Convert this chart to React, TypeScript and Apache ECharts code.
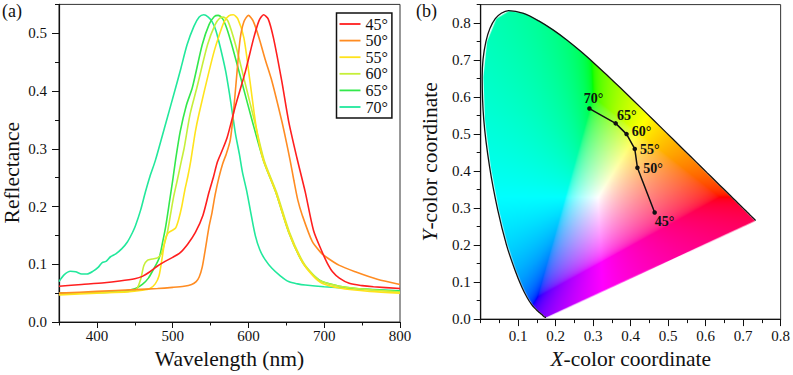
import { useEffect, useRef } from 'react';
import * as echarts from 'echarts';

const FONT = 'Liberation Serif';

// ---------- Panel (a): reflectance spectra ----------
const angleLabels = ['45°', '50°', '55°', '60°', '65°', '70°'];
const lineColors = ['#ff1f1f', '#ff8c22', '#ffe31c', '#c6ef3a', '#33e84c', '#22e89c'];

const spec45 = [
  [350, 0.062], [380, 0.065], [410, 0.068], [430, 0.071], [450, 0.075], [460, 0.079], [470, 0.087],
  [480, 0.097], [490, 0.105], [500, 0.112], [510, 0.12], [520, 0.135], [530, 0.155], [540, 0.185],
  [548, 0.225], [554, 0.252], [559, 0.277], [565, 0.296], [572, 0.32], [583, 0.375], [596, 0.434],
  [607, 0.492], [614, 0.522], [620, 0.532], [626, 0.525], [633, 0.492], [644, 0.417], [653, 0.348],
  [664, 0.284], [675, 0.225], [686, 0.158], [697, 0.122], [704, 0.102], [711, 0.087], [720, 0.076],
  [733, 0.067], [750, 0.063], [765, 0.061], [800, 0.058],
];
const spec50 = [
  [350, 0.05], [400, 0.053], [450, 0.056], [480, 0.058], [500, 0.06], [515, 0.062], [525, 0.065],
  [531, 0.07], [535, 0.078], [539, 0.095], [543, 0.125], [548, 0.165], [552, 0.19], [556, 0.22],
  [561, 0.25], [566, 0.274], [571, 0.292], [576, 0.315], [580, 0.36], [585, 0.434], [589, 0.49],
  [594, 0.52], [600, 0.531], [606, 0.522], [614, 0.492], [622, 0.455], [631, 0.417], [644, 0.348],
  [650, 0.312], [655, 0.28], [660, 0.245], [665, 0.212], [671, 0.185], [684, 0.14], [695, 0.121],
  [702, 0.113], [720, 0.098], [741, 0.087], [770, 0.074], [800, 0.065],
];
const spec55 = [
  [350, 0.047], [400, 0.05], [440, 0.052], [460, 0.055], [470, 0.058], [477, 0.066], [482, 0.08],
  [486, 0.11], [490, 0.142], [494, 0.154], [500, 0.159], [504, 0.163], [508, 0.178], [512, 0.2],
  [516, 0.228], [520, 0.252], [524, 0.28], [530, 0.33], [535, 0.362], [548, 0.434], [555, 0.47],
  [561, 0.495], [568, 0.52], [574, 0.53], [580, 0.532], [586, 0.525], [594, 0.492], [602, 0.417],
  [609, 0.348], [614, 0.31], [620, 0.279], [636, 0.225], [653, 0.156], [671, 0.104], [685, 0.08],
  [697, 0.067], [720, 0.059], [760, 0.053], [800, 0.05],
];
const spec60 = [
  [350, 0.049], [400, 0.051], [440, 0.053], [452, 0.056], [458, 0.075], [462, 0.098], [467, 0.107],
  [473, 0.109], [480, 0.111], [485, 0.118], [489, 0.135], [493, 0.155], [497, 0.185], [501, 0.215],
  [506, 0.245], [512, 0.282], [515, 0.3], [523, 0.36], [532, 0.406], [546, 0.48], [556, 0.515],
  [562, 0.526], [567, 0.528], [573, 0.521], [583, 0.48], [595, 0.417], [608, 0.348], [621, 0.279],
  [637, 0.225], [654, 0.156], [672, 0.104], [686, 0.081], [697, 0.07], [720, 0.062], [760, 0.056],
  [800, 0.052],
];
const spec65 = [
  [350, 0.05], [400, 0.051], [430, 0.053], [445, 0.056], [451, 0.058], [460, 0.065], [468, 0.076],
  [475, 0.092], [482, 0.11], [487, 0.14], [491, 0.167], [496, 0.21], [500, 0.245], [504, 0.282],
  [510, 0.33], [518, 0.375], [526, 0.406], [539, 0.48], [548, 0.515], [555, 0.529], [560, 0.531],
  [566, 0.525], [571, 0.51], [578, 0.48], [591, 0.417], [605, 0.348], [620, 0.279], [636, 0.225],
  [653, 0.156], [671, 0.104], [685, 0.082], [697, 0.07], [720, 0.062], [741, 0.058], [800, 0.053],
];
const spec70 = [
  [350, 0.07], [357, 0.082], [365, 0.088], [372, 0.087], [380, 0.083], [387, 0.083], [395, 0.088],
  [402, 0.095], [407, 0.103], [412, 0.105], [418, 0.113], [425, 0.118], [433, 0.127], [440, 0.138],
  [447, 0.155], [451, 0.167], [458, 0.195], [464, 0.225], [470, 0.252], [477, 0.279], [490, 0.34],
  [504, 0.406], [511, 0.44], [519, 0.48], [528, 0.512], [535, 0.528], [541, 0.532], [547, 0.528],
  [552, 0.52], [557, 0.505], [563, 0.475], [570, 0.434], [575, 0.395], [579, 0.36], [583, 0.325],
  [588, 0.291], [592, 0.26], [598, 0.225], [603, 0.19], [609, 0.15], [615, 0.125], [622, 0.108],
  [631, 0.093], [642, 0.08], [653, 0.07], [665, 0.066], [675, 0.064], [700, 0.061], [750, 0.057],
  [800, 0.054],
];
const spectra = [spec45, spec50, spec55, spec60, spec65, spec70];

const waveMin = 350;
const waveMax = 800;
const waveLabelTicks = [400, 500, 600, 700, 800];
const reflMax = 0.55;
const reflLabelTicks = [0, 0.1, 0.2, 0.3, 0.4, 0.5];

// ---------- Panel (b): CIE 1931 chromaticity ----------
const locusX = [
  0.1741, 0.174, 0.1738, 0.1736, 0.1733, 0.173, 0.1726, 0.1721, 0.1714, 0.1703, 0.1689, 0.1669,
  0.1644, 0.1611, 0.1566, 0.151, 0.144, 0.1355, 0.1241, 0.1096, 0.0913, 0.0687, 0.0454, 0.0235,
  0.0082, 0.0039, 0.0139, 0.0389, 0.0743, 0.1142, 0.1547, 0.1929, 0.2296, 0.2658, 0.3016, 0.3373,
  0.3731, 0.4087, 0.4441, 0.4788, 0.5125, 0.5448, 0.5752, 0.6029, 0.627, 0.6482, 0.6658, 0.6801,
  0.6915, 0.7006, 0.7079, 0.714, 0.719, 0.723, 0.726, 0.7283, 0.73, 0.7311, 0.732, 0.7334, 0.7344,
  0.7347,
];
const locusY = [
  0.005, 0.005, 0.0049, 0.0049, 0.0048, 0.0048, 0.0048, 0.0048, 0.0051, 0.0058, 0.0069, 0.0086,
  0.0109, 0.0138, 0.0177, 0.0227, 0.0297, 0.0399, 0.0578, 0.0868, 0.1327, 0.2007, 0.295, 0.4127,
  0.5384, 0.6548, 0.7502, 0.812, 0.8338, 0.8262, 0.8059, 0.7816, 0.7543, 0.7243, 0.6923, 0.6589,
  0.6245, 0.5896, 0.5547, 0.5202, 0.4866, 0.4544, 0.4242, 0.3965, 0.3725, 0.3514, 0.334, 0.3197,
  0.3083, 0.2993, 0.292, 0.2859, 0.2809, 0.277, 0.274, 0.2717, 0.27, 0.2689, 0.268, 0.2666, 0.2656,
  0.2653,
];
const pointX = [0.464, 0.418, 0.411, 0.389, 0.36, 0.29];
const pointY = [0.288, 0.409, 0.46, 0.5, 0.529, 0.569];

const cieXMax = 0.8;
const cieYMax = 0.85;
const cieXLabelTicks = [0.1, 0.2, 0.3, 0.4, 0.5, 0.6, 0.7, 0.8];
const cieYLabelTicks = [0, 0.1, 0.2, 0.3, 0.4, 0.5, 0.6, 0.7, 0.8];

function gammaSRGB(v: number) {
  return v <= 0.0031308 ? 12.92 * v : 1.055 * Math.pow(v, 1 / 2.4) - 0.055;
}

function buildGamutImage(W: number, H: number): string {
  const base = document.createElement('canvas');
  base.width = W;
  base.height = H;
  const bctx = base.getContext('2d')!;
  const img = bctx.createImageData(W, H);
  const d = img.data;
  for (let j = 0; j < H; j++) {
    const y = Math.max(cieYMax * (1 - (j + 0.5) / H), 0.002);
    for (let i = 0; i < W; i++) {
      const x = (cieXMax * (i + 0.5)) / W;
      const X = x / y;
      const Y = 1;
      const Z = (1 - x - y) / y;
      let r = 3.2406 * X - 1.5372 * Y - 0.4986 * Z;
      let g = -0.9689 * X + 1.8758 * Y + 0.0415 * Z;
      let b = 0.0557 * X - 0.204 * Y + 1.057 * Z;
      const m = Math.min(r, g, b);
      if (m < 0) {
        r -= m;
        g -= m;
        b -= m;
      }
      const M = Math.max(r, g, b) || 1;
      const k = (j * W + i) * 4;
      d[k] = Math.round(gammaSRGB(r / M) * 255);
      d[k + 1] = Math.round(gammaSRGB(g / M) * 255);
      d[k + 2] = Math.round(gammaSRGB(b / M) * 255);
      d[k + 3] = 255;
    }
  }
  bctx.putImageData(img, 0, 0);
  const out = document.createElement('canvas');
  out.width = W;
  out.height = H;
  const ctx = out.getContext('2d')!;
  ctx.beginPath();
  locusX.forEach((lx, idx) => {
    const px = (lx / cieXMax) * W;
    const py = (1 - locusY[idx] / cieYMax) * H;
    if (idx === 0) ctx.moveTo(px, py);
    else ctx.lineTo(px, py);
  });
  ctx.closePath();
  ctx.clip();
  ctx.drawImage(base, 0, 0);
  return out.toDataURL('image/png');
}

const axisLineStyle = { show: true, onZero: false, lineStyle: { color: '#111', width: 1.2 } };
const labelStyle = { color: '#111', fontSize: 15, fontFamily: FONT };
const nameStyle = { color: '#111', fontSize: 21.5, fontFamily: FONT };

function isMultiple(v: number, step: number) {
  return Math.abs(v / step - Math.round(v / step)) < 1e-6;
}

export default function App() {
  const ref = useRef<HTMLDivElement>(null);

  useEffect(() => {
    if (!ref.current) return;
    const chart = echarts.init(ref.current, undefined, { renderer: 'svg' });
    const gamutUrl = buildGamutImage(604, 638);

    const pointLabelStyles: any[] = [
      { position: 'bottom', offset: [10, -5] },
      { position: 'right', offset: [-1.5, 0.5] },
      { position: 'right', offset: [-2, 1] },
      { position: 'right', offset: [-2, -3] },
      { position: 'right', offset: [-6, -8] },
      { position: 'top', offset: [4, 4] },
    ];

    const spectraSeries = spectra.map((s, i) => ({
      name: angleLabels[i],
      type: 'line',
      xAxisIndex: 0,
      yAxisIndex: 0,
      data: s,
      symbol: 'none',
      smooth: 0.25,
      lineStyle: { color: lineColors[i], width: 1.6 },
      itemStyle: { color: lineColors[i] },
      z: 3 + (5 - i),
    }));

    const option: any = {
      animation: false,
      backgroundColor: '#fff',
      textStyle: { fontFamily: FONT },
      grid: [
        { left: 57.5, right: 393, top: 4.4, bottom: 51, show: true, borderColor: '#333', borderWidth: 1 },
        { left: 480.7, right: 10.3, top: 4.6, bottom: 51, show: true, borderColor: '#333', borderWidth: 1 },
      ],
      xAxis: [
        {
          gridIndex: 0, type: 'value', position: 'bottom', min: waveMin, max: waveMax, interval: 50,
          axisLine: axisLineStyle,
          axisTick: { show: true, length: 6, customValues: waveLabelTicks, lineStyle: { color: '#111' } },
          axisLabel: {
            ...labelStyle, margin: 6, customValues: waveLabelTicks,
            formatter: (v: number) => (isMultiple(v, 100) ? String(v) : ''),
          },
          splitLine: { show: false },
          name: 'Wavelength (nm)', nameLocation: 'middle', nameGap: 26, nameTextStyle: nameStyle,
        },
        {
          gridIndex: 0, type: 'value', position: 'bottom', min: waveMin, max: waveMax, interval: 50,
          axisLine: { show: false },
          axisTick: { show: true, length: 3.5, lineStyle: { color: '#111' } },
          axisLabel: { show: false },
          splitLine: { show: false },
        },
        {
          gridIndex: 1, type: 'value', position: 'bottom', min: 0, max: cieXMax, interval: 0.05,
          axisLine: axisLineStyle,
          axisTick: { show: true, length: 7, customValues: cieXLabelTicks, lineStyle: { color: '#111' } },
          axisLabel: {
            ...labelStyle, margin: 9, customValues: cieXLabelTicks,
            formatter: (v: number) => (v > 0 && isMultiple(v, 0.1) ? v.toFixed(1) : ''),
          },
          splitLine: { show: false },
          name: '{it|X}-color coordinate', nameLocation: 'middle', nameGap: 26,
          nameTextStyle: { ...nameStyle, rich: { it: { ...nameStyle, fontStyle: 'italic' } } },
        },
        {
          gridIndex: 1, type: 'value', position: 'bottom', min: 0, max: cieXMax, interval: 0.05,
          axisLine: { show: false },
          axisTick: { show: true, length: 4, lineStyle: { color: '#111' } },
          axisLabel: { show: false },
          splitLine: { show: false },
        },
      ],
      yAxis: [
        {
          gridIndex: 0, type: 'value', position: 'left', min: 0, max: reflMax, interval: 0.05,
          axisLine: axisLineStyle,
          axisTick: { show: true, length: 7, customValues: reflLabelTicks, lineStyle: { color: '#111' } },
          axisLabel: {
            ...labelStyle, margin: 12, customValues: reflLabelTicks,
            formatter: (v: number) => (isMultiple(v, 0.1) && v < 0.52 ? v.toFixed(1) : ''),
          },
          splitLine: { show: false },
          name: 'Reflectance', nameLocation: 'middle', nameGap: 36,
          nameTextStyle: { ...nameStyle, padding: [0, 19, 0, 0] },
        },
        {
          gridIndex: 0, type: 'value', position: 'left', min: 0, max: reflMax, interval: 0.05,
          axisLine: { show: false },
          axisTick: { show: true, length: 4, lineStyle: { color: '#111' } },
          axisLabel: { show: false },
          splitLine: { show: false },
        },
        {
          gridIndex: 1, type: 'value', position: 'left', min: 0, max: cieYMax, interval: 0.05,
          axisLine: axisLineStyle,
          axisTick: { show: true, length: 7, customValues: cieYLabelTicks, lineStyle: { color: '#111' } },
          axisLabel: {
            ...labelStyle, margin: 10, customValues: cieYLabelTicks,
            formatter: (v: number) => (isMultiple(v, 0.1) && v < 0.82 ? v.toFixed(1) : ''),
          },
          splitLine: { show: false },
          name: '{it|Y}-color coordinate', nameLocation: 'middle', nameGap: 40,
          nameTextStyle: { ...nameStyle, rich: { it: { ...nameStyle, fontStyle: 'italic' } } },
        },
        {
          gridIndex: 1, type: 'value', position: 'left', min: 0, max: cieYMax, interval: 0.05,
          axisLine: { show: false },
          axisTick: { show: true, length: 4, lineStyle: { color: '#111' } },
          axisLabel: { show: false },
          splitLine: { show: false },
        },
      ],
      legend: {
        data: angleLabels,
        orient: 'vertical',
        left: 336.5,
        top: 13,
        icon: 'rect',
        itemWidth: 21,
        itemHeight: 1.8,
        itemGap: 0.6,
        padding: [3, 4, 3, 3],
        borderColor: '#111',
        borderWidth: 1.5,
        backgroundColor: '#fff',
        textStyle: { color: '#111', fontSize: 16, fontFamily: FONT },
      },
      graphic: [
        { type: 'text', left: 2, top: 2, style: { text: '(a)', fontSize: 18, fontFamily: FONT, fill: '#111' } },
        { type: 'text', left: 416, top: 2, style: { text: '(b)', fontSize: 18, fontFamily: FONT, fill: '#111' } },
      ],
      series: [
        ...spectraSeries,
        {
          name: 'gamut',
          type: 'custom',
          xAxisIndex: 2,
          yAxisIndex: 2,
          silent: true,
          z: 1,
          data: [[0, 0]],
          renderItem: (_p: any, api: any) => {
            const tl = api.coord([0, cieYMax]);
            const br = api.coord([cieXMax, 0]);
            return {
              type: 'image',
              style: { image: gamutUrl, x: tl[0], y: tl[1], width: br[0] - tl[0], height: br[1] - tl[1] },
            };
          },
        },
        {
          name: 'locus',
          type: 'line',
          xAxisIndex: 2,
          yAxisIndex: 2,
          data: locusX.map((x, i) => [x, locusY[i]]),
          symbol: 'none',
          smooth: 0.3,
          clip: false,
          lineStyle: { color: '#111', width: 1.3 },
          z: 3,
        },
        {
          name: 'path',
          type: 'line',
          xAxisIndex: 2,
          yAxisIndex: 2,
          data: pointX.map((x, i) => ({ value: [x, pointY[i]], name: angleLabels[i], label: pointLabelStyles[i] })),
          symbol: 'circle',
          symbolSize: 4.5,
          lineStyle: { color: '#111', width: 1.5 },
          itemStyle: { color: '#111' },
          label: {
            show: true,
            formatter: (p: any) => p.name,
            color: '#111',
            fontSize: 14,
            fontWeight: 'bold',
            fontFamily: FONT,
          },
          z: 4,
        },
      ],
    };
    chart.setOption(option);
    return () => chart.dispose();
  }, []);

  return (
    <div
      ref={ref}
      style={{ position: 'fixed', left: 0, top: 0, width: 793, height: 375, background: '#fff' }}
    />
  );
}
